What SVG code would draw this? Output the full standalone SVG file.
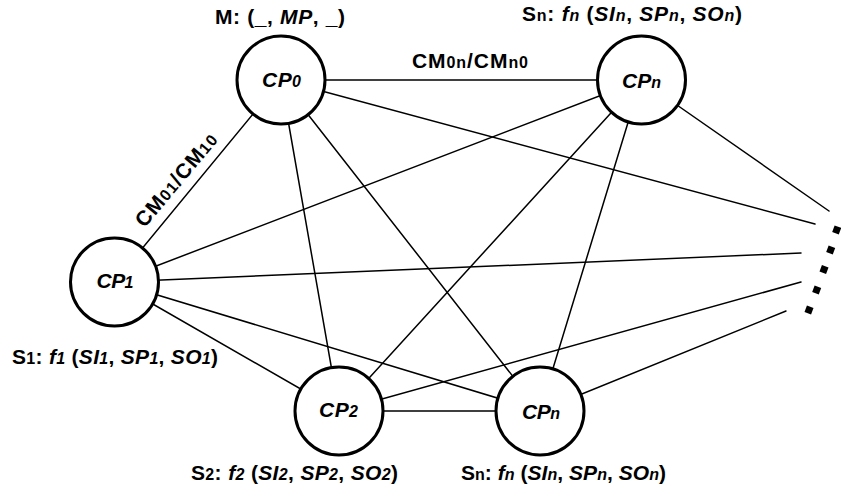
<svg xmlns="http://www.w3.org/2000/svg" width="841" height="495" viewBox="0 0 841 495">
  <style>
    text { font-family: "Liberation Sans", Arial, Helvetica, sans-serif; font-weight: bold; font-size: 21px; fill: #000; }
    .i { font-style: italic; }
    .s { font-size: 16px; }
    .edges line { stroke: #000; stroke-width: 1.5; stroke-linecap: round; }
    .node circle { fill: #fff; stroke: #000; stroke-width: 3; }
    .dot { fill: #000; }
  </style>

  <!-- connectors: full mesh between the coordinating processes, plus links to the elided ones -->
  <g id="connectors" class="edges">
    <line x1="281" y1="80" x2="641" y2="80"/>
    <line x1="281" y1="80" x2="114.5" y2="282"/>
    <line x1="281" y1="80" x2="339" y2="411"/>
    <line x1="281" y1="80" x2="540" y2="411"/>
    <line x1="641" y1="80" x2="114.5" y2="282"/>
    <line x1="641" y1="80" x2="339" y2="411"/>
    <line x1="641" y1="80" x2="540" y2="411"/>
    <line x1="114.5" y1="282" x2="339" y2="411"/>
    <line x1="114.5" y1="282" x2="540" y2="411"/>
    <line x1="339" y1="411" x2="540" y2="411"/>
    <line x1="641" y1="80" x2="829" y2="211"/>
    <line x1="281" y1="80" x2="815" y2="224"/>
    <line x1="114.5" y1="282" x2="801" y2="253"/>
    <line x1="339" y1="411" x2="801" y2="282"/>
    <line x1="540" y1="411" x2="786" y2="311"/>
  </g>

  <!-- edge labels -->
  <text x="412" y="68" textLength="116" lengthAdjust="spacing">CM<tspan class="s">0n</tspan>/CM<tspan class="s">n0</tspan></text>
  <text transform="translate(181.5,184.5) rotate(-50)" text-anchor="middle" textLength="115" lengthAdjust="spacing">CM<tspan class="s">01</tspan>/CM<tspan class="s">10</tspan></text>

  <!-- master -->
  <g id="cp0" class="node">
    <circle cx="281" cy="80" r="44"/>
    <text x="281.5" y="87" text-anchor="middle" class="i" textLength="39" lengthAdjust="spacing">CP<tspan class="s">0</tspan></text>
    <text x="215" y="24" textLength="130" lengthAdjust="spacing">M: (_, <tspan class="i">MP</tspan>, _)</text>
  </g>

  <g id="cpn-top" class="node">
    <circle cx="641.5" cy="80" r="44"/>
    <text x="641.5" y="88" text-anchor="middle" class="i" textLength="39" lengthAdjust="spacing">CP<tspan class="s">n</tspan></text>
    <text x="522" y="21" textLength="220" lengthAdjust="spacing">S<tspan class="s">n</tspan>: <tspan class="i">f<tspan class="s">n</tspan></tspan> (<tspan class="i">SI<tspan class="s">n</tspan></tspan>, <tspan class="i">SP<tspan class="s">n</tspan></tspan>, <tspan class="i">SO<tspan class="s">n</tspan></tspan>)</text>
  </g>

  <g id="cp1" class="node">
    <circle cx="114.5" cy="282" r="44"/>
    <text x="115" y="288" text-anchor="middle" class="i" textLength="37" lengthAdjust="spacing">CP<tspan class="s">1</tspan></text>
    <text x="12" y="364" textLength="206" lengthAdjust="spacing">S<tspan class="s">1</tspan>: <tspan class="i">f<tspan class="s">1</tspan></tspan> (<tspan class="i">SI<tspan class="s">1</tspan></tspan>, <tspan class="i">SP<tspan class="s">1</tspan></tspan>, <tspan class="i">SO<tspan class="s">1</tspan></tspan>)</text>
  </g>

  <g id="cp2" class="node">
    <circle cx="339" cy="411" r="44"/>
    <text x="338.5" y="417" text-anchor="middle" class="i" textLength="39" lengthAdjust="spacing">CP<tspan class="s">2</tspan></text>
    <text x="191" y="480" textLength="207" lengthAdjust="spacing">S<tspan class="s">2</tspan>: <tspan class="i">f<tspan class="s">2</tspan></tspan> (<tspan class="i">SI<tspan class="s">2</tspan></tspan>, <tspan class="i">SP<tspan class="s">2</tspan></tspan>, <tspan class="i">SO<tspan class="s">2</tspan></tspan>)</text>
  </g>

  <g id="cpn-bottom" class="node">
    <circle cx="540" cy="411" r="44"/>
    <text x="541" y="419" text-anchor="middle" class="i" textLength="38" lengthAdjust="spacing">CP<tspan class="s">n</tspan></text>
    <text x="461" y="480" textLength="205" lengthAdjust="spacing">S<tspan class="s">n</tspan>: <tspan class="i">f<tspan class="s">n</tspan></tspan> (<tspan class="i">SI<tspan class="s">n</tspan></tspan>, <tspan class="i">SP<tspan class="s">n</tspan></tspan>, <tspan class="i">SO<tspan class="s">n</tspan></tspan>)</text>
  </g>

  <!-- vertical ellipsis for further processes -->
  <g id="more">
    <rect class="dot" x="-3.5" y="-3.5" width="7" height="7" transform="translate(836.7,230) rotate(20)"/>
    <rect class="dot" x="-3.5" y="-3.5" width="7" height="7" transform="translate(830.7,250) rotate(20)"/>
    <rect class="dot" x="-3.5" y="-3.5" width="7" height="7" transform="translate(824,269.5) rotate(20)"/>
    <rect class="dot" x="-3.5" y="-3.5" width="7" height="7" transform="translate(816.7,290) rotate(20)"/>
    <rect class="dot" x="-3.5" y="-3.5" width="7" height="7" transform="translate(809,310) rotate(20)"/>
  </g>
</svg>
